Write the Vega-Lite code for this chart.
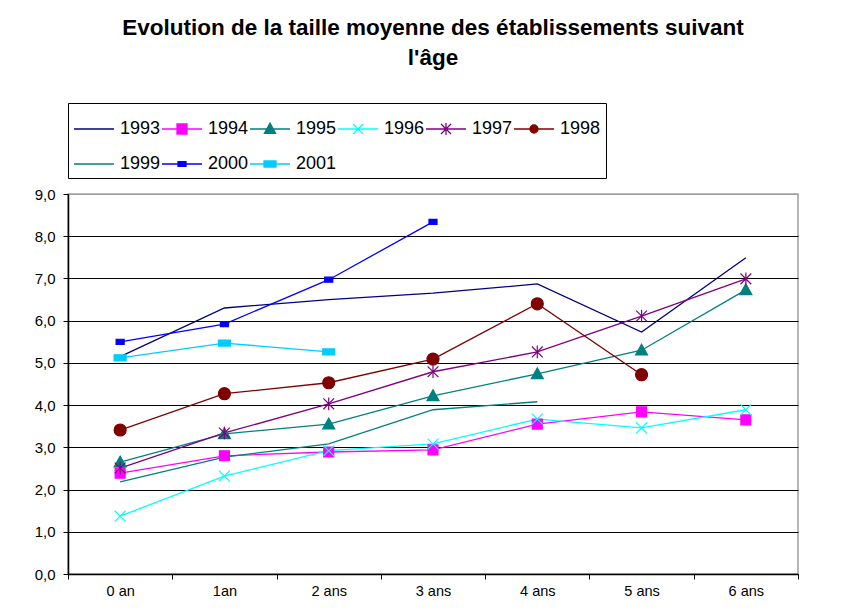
{
  "$schema": "https://vega.github.io/schema/vega-lite/v6.json",
  "width": 730,
  "height": 380,
  "autosize": {"type": "none"},
  "padding": {"left": 68, "top": 194, "right": 52, "bottom": 40},
  "background": "white",
  "title": {
    "text": ["Evolution de la taille moyenne des établissements suivant", "l'âge"],
    "font": "Liberation Sans",
    "fontSize": 22.5,
    "fontWeight": "bold",
    "color": "black",
    "anchor": "middle",
    "lineHeight": 30,
    "offset": 33
  },
  "config": {
    "font": "Liberation Sans",
    "view": {"stroke": "#a0a0a0", "strokeWidth": 1.5},
    "axis": {"labelFont": "Liberation Sans", "labelColor": "black", "domainColor": "black", "tickColor": "black"}
  },
  "data": {
    "values": [
      {"year": "1993", "age": "0 an", "v": 5.15}, {"year": "1993", "age": "1an", "v": 6.3}, {"year": "1993", "age": "2 ans", "v": 6.5}, {"year": "1993", "age": "3 ans", "v": 6.65}, {"year": "1993", "age": "4 ans", "v": 6.87}, {"year": "1993", "age": "5 ans", "v": 5.73}, {"year": "1993", "age": "6 ans", "v": 7.49},
      {"year": "1994", "age": "0 an", "v": 2.39}, {"year": "1994", "age": "1an", "v": 2.8}, {"year": "1994", "age": "2 ans", "v": 2.89}, {"year": "1994", "age": "3 ans", "v": 2.94}, {"year": "1994", "age": "4 ans", "v": 3.55}, {"year": "1994", "age": "5 ans", "v": 3.84}, {"year": "1994", "age": "6 ans", "v": 3.65},
      {"year": "1995", "age": "0 an", "v": 2.65}, {"year": "1995", "age": "1an", "v": 3.32}, {"year": "1995", "age": "2 ans", "v": 3.55}, {"year": "1995", "age": "3 ans", "v": 4.22}, {"year": "1995", "age": "4 ans", "v": 4.74}, {"year": "1995", "age": "5 ans", "v": 5.3}, {"year": "1995", "age": "6 ans", "v": 6.73},
      {"year": "1996", "age": "0 an", "v": 1.37}, {"year": "1996", "age": "1an", "v": 2.32}, {"year": "1996", "age": "2 ans", "v": 2.92}, {"year": "1996", "age": "3 ans", "v": 3.08}, {"year": "1996", "age": "4 ans", "v": 3.67}, {"year": "1996", "age": "5 ans", "v": 3.46}, {"year": "1996", "age": "6 ans", "v": 3.89},
      {"year": "1997", "age": "0 an", "v": 2.51}, {"year": "1997", "age": "1an", "v": 3.34}, {"year": "1997", "age": "2 ans", "v": 4.03}, {"year": "1997", "age": "3 ans", "v": 4.79}, {"year": "1997", "age": "4 ans", "v": 5.26}, {"year": "1997", "age": "5 ans", "v": 6.11}, {"year": "1997", "age": "6 ans", "v": 6.99},
      {"year": "1998", "age": "0 an", "v": 3.41}, {"year": "1998", "age": "1an", "v": 4.27}, {"year": "1998", "age": "2 ans", "v": 4.53}, {"year": "1998", "age": "3 ans", "v": 5.09}, {"year": "1998", "age": "4 ans", "v": 6.4}, {"year": "1998", "age": "5 ans", "v": 4.72},
      {"year": "1999", "age": "0 an", "v": 2.18}, {"year": "1999", "age": "1an", "v": 2.77}, {"year": "1999", "age": "2 ans", "v": 3.08}, {"year": "1999", "age": "3 ans", "v": 3.89}, {"year": "1999", "age": "4 ans", "v": 4.08},
      {"year": "2000", "age": "0 an", "v": 5.5}, {"year": "2000", "age": "1an", "v": 5.92}, {"year": "2000", "age": "2 ans", "v": 6.97}, {"year": "2000", "age": "3 ans", "v": 8.34},
      {"year": "2001", "age": "0 an", "v": 5.12}, {"year": "2001", "age": "1an", "v": 5.47}, {"year": "2001", "age": "2 ans", "v": 5.26}
    ]
  },
  "encoding": {
    "x": {
      "field": "age", "type": "nominal", "sort": null,
      "scale": {"domain": ["0 an", "1an", "2 ans", "3 ans", "4 ans", "5 ans", "6 ans"], "paddingInner": 0, "paddingOuter": 0},
      "axis": {"title": null, "labelAngle": 0, "labelFontSize": 14.5, "tickBand": "extent", "tickSize": 5, "labelPadding": 5, "domainWidth": 1.5, "grid": false}
    },
    "y": {
      "field": "v", "type": "quantitative",
      "scale": {"domain": [0, 9], "nice": false, "zero": true},
      "axis": {
        "title": null, "values": [0, 1, 2, 3, 4, 5, 6, 7, 8, 9],
        "labelExpr": "replace(format(datum.value, '.1f'), '.', ',')",
        "labelFontSize": 15, "tickSize": 5, "labelPadding": 8, "domainWidth": 1.5,
        "grid": true, "gridColor": {"condition": {"test": "datum.value === 9", "value": "#a0a0a0"}, "value": "black"}, "gridWidth": 1.2, "gridOpacity": 1
      }
    },
    "color": {
      "field": "year", "type": "nominal",
      "scale": {
        "domain": ["1993", "1994", "1995", "1996", "1997", "1998", "1999", "2000", "2001"],
        "range": ["#000080", "#FF00FF", "#008080", "#00FFFF", "#800080", "#800000", "#008080", "#0000FF", "#00CCFF"]
      }
    }
  },
  "layer": [
    {
      "mark": {"type": "line", "strokeWidth": 1.3},
      "encoding": {
        "color": {
          "field": "year", "type": "nominal",
          "legend": {
            "title": null,
            "orient": "none", "legendX": 0, "legendY": -91,
            "direction": "horizontal", "columns": 6,
            "strokeColor": "black", "fillColor": "white", "padding": 5,
            "symbolSize": 1600, "symbolStrokeWidth": 1.3,
            "labelFont": "Liberation Sans", "labelFontSize": 18, "labelColor": "black",
            "labelOffset": 5, "columnPadding": -3, "rowPadding": 5,
            "encode": {
              "symbols": {
                "update": {
                  "shape": {"signal": "datum.value === '1994' ? 'M-1,0H1M-0.25,-0.25H0.25V0.25H-0.25Z' : datum.value === '1995' ? 'M-1,0H1M0,-0.3L0.28,0.22H-0.28Z' : datum.value === '1996' ? 'M-1,0H1M-0.25,-0.25L0.25,0.25M-0.25,0.25L0.25,-0.25' : datum.value === '1997' ? 'M-1,0H1M-0.25,-0.25L0.25,0.25M-0.25,0.25L0.25,-0.25M0,-0.3V0.3' : datum.value === '1998' ? 'M-1,0H1M0.2,0A0.2,0.2 0 1 1 -0.2,0A0.2,0.2 0 1 1 0.2,0Z' : datum.value === '2000' ? 'M-1,0H1M-0.2,-0.12H0.2V0.12H-0.2Z' : datum.value === '2001' ? 'M-1,0H1M-0.3,-0.15H0.3V0.15H-0.3Z' : 'M-1,0H1'"},
                  "fill": {"scale": "color", "field": "value"},
                  "stroke": {"scale": "color", "field": "value"},
                  "strokeWidth": {"value": 1.3}
                }
              }
            }
          }
        }
      }
    },
    {
      "transform": [{"filter": "datum.year !== '1993' && datum.year !== '1999'"}],
      "mark": {"type": "point", "filled": true, "size": 144, "strokeWidth": 1.2, "opacity": 1},
      "encoding": {
        "shape": {
          "field": "year", "type": "nominal", "legend": null,
          "scale": {
            "domain": ["1994", "1995", "1996", "1997", "1998", "2000", "2001"],
            "range": ["M-0.83,-0.83H0.83V0.83H-0.83Z", "M0,-1L1,0.8H-1Z", "M-0.9,-0.9L0.9,0.9M-0.9,0.9L0.9,-0.9", "M-0.9,-0.9L0.9,0.9M-0.9,0.9L0.9,-0.9M0,-1.05V1.05", "circle", "M-0.67,-0.42H0.67V0.42H-0.67Z", "M-1,-0.5H1V0.5H-1Z"]
          }
        },
        "stroke": {
          "field": "year", "type": "nominal", "legend": null,
          "scale": {
            "domain": ["1993", "1994", "1995", "1996", "1997", "1998", "1999", "2000", "2001"],
            "range": ["#000080", "#FF00FF", "#008080", "#00FFFF", "#800080", "#800000", "#008080", "#0000FF", "#00CCFF"]
          }
        }
      }
    }
  ]
}
